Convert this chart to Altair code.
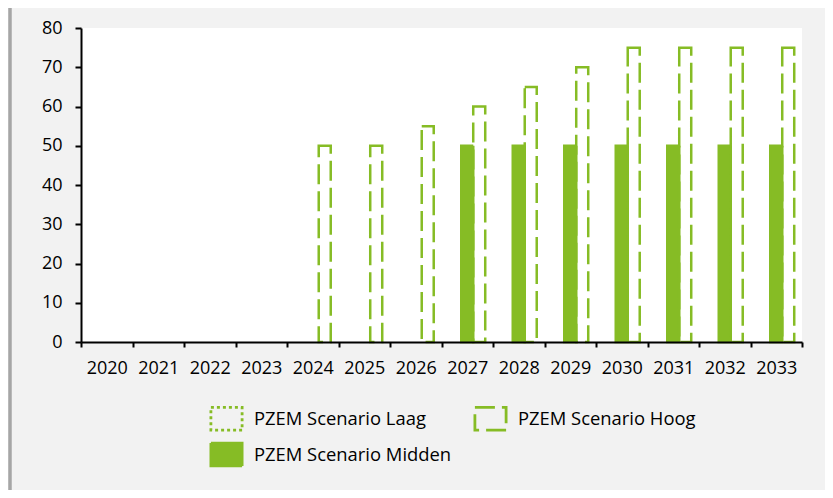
import altair as alt
import pandas as pd

years = [str(y) for y in range(2020, 2034)]
laag = [0] * 14
midden = [0, 0, 0, 0, 0, 0, 0, 50, 50, 50, 50, 50, 50, 50]
hoog = [0, 0, 0, 0, 50, 50, 55, 60, 65, 70, 75, 75, 75, 75]

series_names = ["PZEM Scenario Laag", "PZEM Scenario Midden", "PZEM Scenario Hoog"]
legend_order = ["PZEM Scenario Laag", "PZEM Scenario Hoog", "PZEM Scenario Midden"]

rows = []
for name, vals in zip(series_names, [laag, midden, hoog]):
    for y, v in zip(years, vals):
        rows.append({"year": y, "series": name, "value": v})
df = pd.DataFrame(rows)

GREEN = "#86BC25"
W, H = 721, 314
PL, PT = 73, 20
TOTAL_W, TOTAL_H = 817, 482

fill_scale = alt.Scale(domain=legend_order, range=["transparent", "transparent", GREEN])
stroke_scale = alt.Scale(domain=legend_order, range=[GREEN, GREEN, GREEN])
dash_scale = alt.Scale(domain=legend_order, range=[[3, 3], [20, 7], [1, 0]])

leg = alt.Legend(
    title=None, orient="none", legendX=132, legendY=377, columns=2, direction="horizontal",
    symbolType="M-1.3,-0.95H1.3V0.95H-1.3Z", symbolSize=576,
    symbolStrokeWidth=2.8, labelFont="Open Sans", labelFontSize=18.4, labelColor="#000000",
    labelOffset=14, columnPadding=17, rowPadding=1, labelLimit=400,
)

bars = alt.Chart(df).transform_filter("datum.value > 0").mark_bar(
    strokeWidth=2.5, width=12
).encode(
    x=alt.X("year:N", sort=years, title=None,
            scale=alt.Scale(domain=years, paddingInner=0, paddingOuter=0),
            axis=alt.Axis(labelAngle=0, tickBand="extent", labelFont="Open Sans", labelFontSize=18,
                          labelColor="#000000", domainColor="#000000", tickColor="#000000",
                          domainWidth=2, tickWidth=2, tickSize=5, labelPadding=12, zindex=1)),
    xOffset=alt.XOffset("series:N", sort=series_names,
                        scale=alt.Scale(domain=series_names, paddingInner=0, paddingOuter=0.65)),
    y=alt.Y("value:Q", title=None, scale=alt.Scale(domain=[0, 80]),
            axis=alt.Axis(values=list(range(0, 90, 10)), grid=False, labelFont="Open Sans",
                          labelFontSize=18, labelColor="#000000", domainColor="#000000",
                          tickColor="#000000", domainWidth=2, tickWidth=2, tickSize=6,
                          labelPadding=13, zindex=1)),
    fill=alt.Fill("series:N", scale=fill_scale, legend=leg),
    stroke=alt.Stroke("series:N", scale=stroke_scale, legend=leg),
    strokeDash=alt.StrokeDash("series:N", scale=dash_scale, legend=leg),
)

edge = alt.Chart(pd.DataFrame({"k": [0]})).mark_rule(color="#a6a6a6", strokeWidth=3.5).encode(
    x=alt.value(-71), y=alt.value(-PT), y2=alt.value(TOTAL_H - PT)
)

chart = alt.layer(edge, bars).properties(
    width=W, height=H,
    autosize=alt.AutoSizeParams(type="none"),
    padding={"left": PL, "top": PT, "right": TOTAL_W - PL - W, "bottom": TOTAL_H - PT - H},
    background="#f2f2f2",
).configure_view(fill="white", stroke=None)

chart.save("out.html", embed_options={"renderer": "svg", "actions": False})
